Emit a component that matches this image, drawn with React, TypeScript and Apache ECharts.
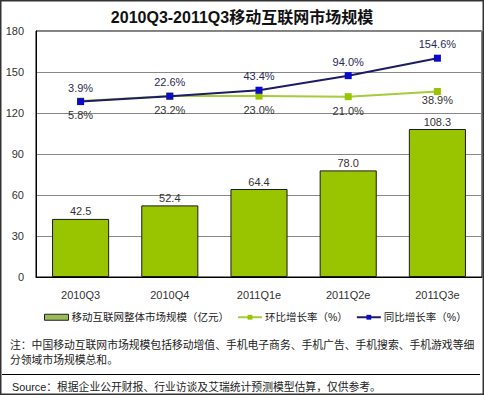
import React, { useEffect, useRef } from "react";
import * as echarts from "echarts";

const categories = ["2010Q3", "2010Q4", "2011Q1e", "2011Q2e", "2011Q3e"];
const marketSize = [42.5, 52.4, 64.4, 78.0, 108.3];
const qoqGrowth = [5.8, 23.2, 23.0, 21.0, 38.9];
const yoyGrowth = [3.9, 22.6, 43.4, 94.0, 154.6];
const yTicks = [0, 30, 60, 90, 120, 150, 180];

const titleText = "2010Q3-2011Q3移动互联网市场规模";
const seriesNames = ["移动互联网整体市场规模（亿元）", "环比增长率（%）", "同比增长率（%）"];
const noteLine1 = "注：中国移动互联网市场规模包括移动增值、手机电子商务、手机广告、手机搜索、手机游戏等细";
const noteLine2 = "分领域市场规模总和。";
const sourceText = "Source：根据企业公开财报、行业访谈及艾瑞统计预测模型估算，仅供参考。";

const FONT = '"Liberation Sans", "Noto Sans CJK SC", sans-serif';

export default function App() {
  const ref = useRef<HTMLDivElement>(null);
  useEffect(() => {
    if (!ref.current) return;
    const chart = echarts.init(ref.current, undefined, { renderer: "svg" });
    chart.setOption({
      animation: false,
      backgroundColor: "#fff",
      textStyle: { fontFamily: FONT },
      title: {
        text: titleText,
        left: "center",
        top: 4,
        textStyle: { fontSize: 16, fontWeight: "bold", color: "#111", fontFamily: FONT },
      },
      grid: {
        left: 36,
        right: 2,
        top: 31,
        bottom: 118,
        show: true,
        borderColor: "#000",
        borderWidth: 1,
      },
      legend: {
        left: 44,
        top: 312,
        width: 470,
        padding: 0,
        itemWidth: 24,
        itemHeight: 6,
        itemGap: 8,
        textStyle: { fontSize: 10.5, color: "#222", fontFamily: FONT, padding: [0, 0, 0, -2] },
        data: [
          { name: seriesNames[0], icon: "rect", itemStyle: { color: "#9BBB59", borderColor: "#222", borderWidth: 1 } },
          { name: seriesNames[1] },
          { name: seriesNames[2] },
        ],
      },
      xAxis: {
        type: "category",
        data: categories,
        axisLine: { lineStyle: { color: "#000" } },
        axisTick: { show: false },
        axisLabel: { color: "#333", fontSize: 11, margin: 12, fontFamily: FONT },
      },
      yAxis: [
        {
          type: "value",
          min: yTicks[0],
          max: yTicks[yTicks.length - 1],
          interval: 30,
          axisLine: { show: true, lineStyle: { color: "#000" } },
          axisTick: { show: false },
          axisLabel: { color: "#333", fontSize: 11, margin: 12, fontFamily: FONT },
          splitLine: { lineStyle: { color: "#888", width: 1 } },
        },
        {
          type: "value",
          min: -605,
          max: 249,
          show: false,
          splitLine: { show: false },
        },
      ],
      series: [
        {
          name: seriesNames[0],
          type: "bar",
          data: marketSize,
          barWidth: "64%",
          itemStyle: { color: "#99C400", borderColor: "#1a1a1a", borderWidth: 1 },
          label: {
            show: true,
            position: "top",
            distance: 2,
            color: "#333",
            fontSize: 11,
            fontFamily: FONT,
            formatter: (p: any) => Number(p.value).toFixed(1),
          },
        },
        {
          name: seriesNames[1],
          type: "line",
          yAxisIndex: 1,
          data: qoqGrowth.map((v, i) =>
            i === qoqGrowth.length - 1 ? { value: v, label: { distance: -1 } } : v
          ),
          symbol: "rect",
          symbolSize: 7,
          lineStyle: { color: "#A6CC3A", width: 2 },
          itemStyle: { color: "#99C400" },
          label: {
            show: true,
            position: "bottom",
            distance: 5,
            color: "#333",
            fontSize: 11,
            fontFamily: FONT,
            formatter: (p: any) => Number(p.value).toFixed(1) + "%",
          },
          z: 3,
        },
        {
          name: seriesNames[2],
          type: "line",
          yAxisIndex: 1,
          data: yoyGrowth,
          symbol: "rect",
          symbolSize: 7,
          lineStyle: { color: "#1C1C66", width: 2 },
          itemStyle: { color: "#0A0AC8" },
          label: {
            show: true,
            position: "top",
            distance: 5,
            color: "#2a2a55",
            fontSize: 11,
            fontFamily: FONT,
            formatter: (p: any) => Number(p.value).toFixed(1) + "%",
          },
          z: 4,
        },
      ],
      graphic: [
        {
          type: "text",
          left: 10,
          top: 340,
          style: { text: noteLine1, fontSize: 10.8, fill: "#222", fontFamily: FONT },
        },
        {
          type: "text",
          left: 10,
          top: 355,
          style: { text: noteLine2, fontSize: 10.8, fill: "#222", fontFamily: FONT },
        },
        {
          type: "line",
          shape: { x1: 2, y1: 374.5, x2: 480, y2: 374.5 },
          style: { stroke: "#000", lineWidth: 1 },
        },
        {
          type: "text",
          left: 12,
          top: 382,
          style: { text: sourceText, fontSize: 10.8, fill: "#222", fontFamily: FONT },
        },
        {
          type: "rect",
          shape: { x: 0.75, y: 0.75, width: 482.5, height: 393.5 },
          style: { fill: "none", stroke: "#333", lineWidth: 1.5 },
          silent: true,
          z: 100,
        },
      ],
    });
    return () => chart.dispose();
  }, []);
  return (
    <div
      ref={ref}
      style={{ position: "fixed", left: 0, top: 0, width: 484, height: 395 }}
    />
  );
}
